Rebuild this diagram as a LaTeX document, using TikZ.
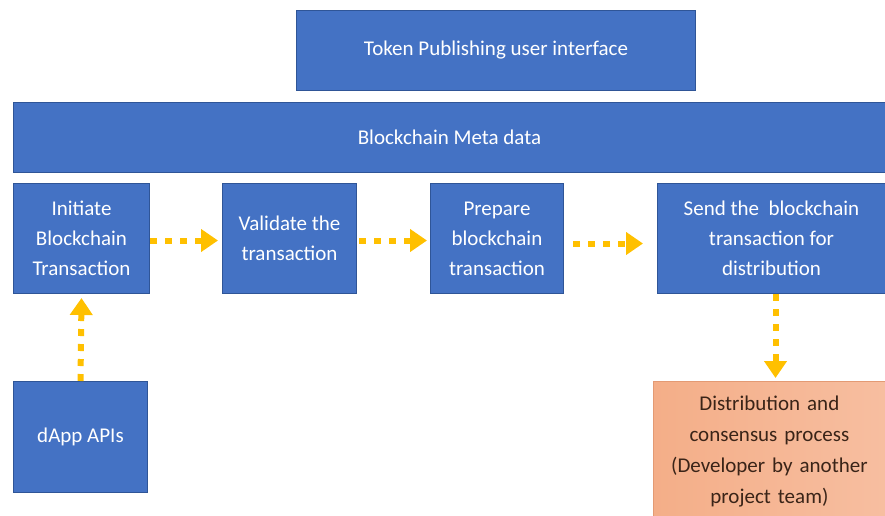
\documentclass[tikz,border=0pt]{standalone}
\usepackage{fontspec}
\setmainfont{Carlito}
\usetikzlibrary{arrows.meta,positioning}
\definecolor{boxblue}{HTML}{4472C4}
\definecolor{boxedge}{HTML}{2F5597}
\definecolor{salmonL}{HTML}{F4AE88}
\definecolor{salmonR}{HTML}{F7BEA0}
\definecolor{salmonedge}{HTML}{E39A74}
\definecolor{gold}{HTML}{FFC000}
\definecolor{darktext}{HTML}{3A2418}
\tikzset{
  bluebox/.style={draw=boxedge, line width=1pt, fill=boxblue, text=white,
    anchor=north west, inner sep=2pt, align=center,
    font=\fontsize{21}{30}\selectfont},
  orangebox/.style={draw=salmonedge, line width=0.8pt, left color=salmonL, right color=salmonR,
    text=darktext, anchor=north west, inner sep=2pt, align=center,
    font=\fontsize{21}{31}\selectfont},
  flow/.style={draw=gold, line width=6pt, dash pattern=on 7pt off 8pt,
    -{Triangle[width=22pt,length=17pt,fill=gold]}}
}
\begin{document}
\begin{tikzpicture}[x=1pt,y=-1pt]
\useasboundingbox (0,0) rectangle (885,515);
\node[bluebox, minimum width=399pt, minimum height=80pt] (ui) at (296,10) {Token Publishing user interface};
\node[bluebox, minimum width=872pt, minimum height=70pt] (meta) at (13,102) {Blockchain Meta data};
\node[bluebox, minimum width=136pt, minimum height=110pt] (init) at (13,183) {Initiate\\Blockchain\\Transaction};
\node[bluebox, minimum width=134pt, minimum height=110pt] (valid) at (222,183) {Validate the\\transaction};
\node[bluebox, minimum width=133pt, minimum height=110pt] (prep) at (430,183) {Prepare\\blockchain\\transaction};
\node[bluebox, minimum width=228pt, minimum height=110pt] (send) at (657,183) {Send the\ \ blockchain\\transaction for\\distribution};
\node[bluebox, minimum width=134pt, minimum height=111pt] (dapp) at (13,381) {dApp APIs};
\node[orangebox, minimum width=232pt, minimum height=140pt, text width=226pt] (dist) at (653,381) {Distribution and\\consensus process\\(Developer by another\\project team)};
\draw[flow] ([yshift=-2pt]init.east) -- ([xshift=-4pt,yshift=-2pt]valid.west);
\draw[flow] ([xshift=2pt,yshift=-2pt]valid.east) -- ([xshift=-3pt,yshift=-2pt]prep.west);
\draw[flow] ([xshift=9pt,yshift=-5pt]prep.east) -- ([xshift=-14pt,yshift=-5pt]send.west);
\draw[flow] (dapp.north) -- ([yshift=-4pt]init.south);
\draw[flow] ([xshift=4pt]send.south) -- ([xshift=4pt,yshift=3pt]dist.north -| send.south);
\end{tikzpicture}
\end{document}
